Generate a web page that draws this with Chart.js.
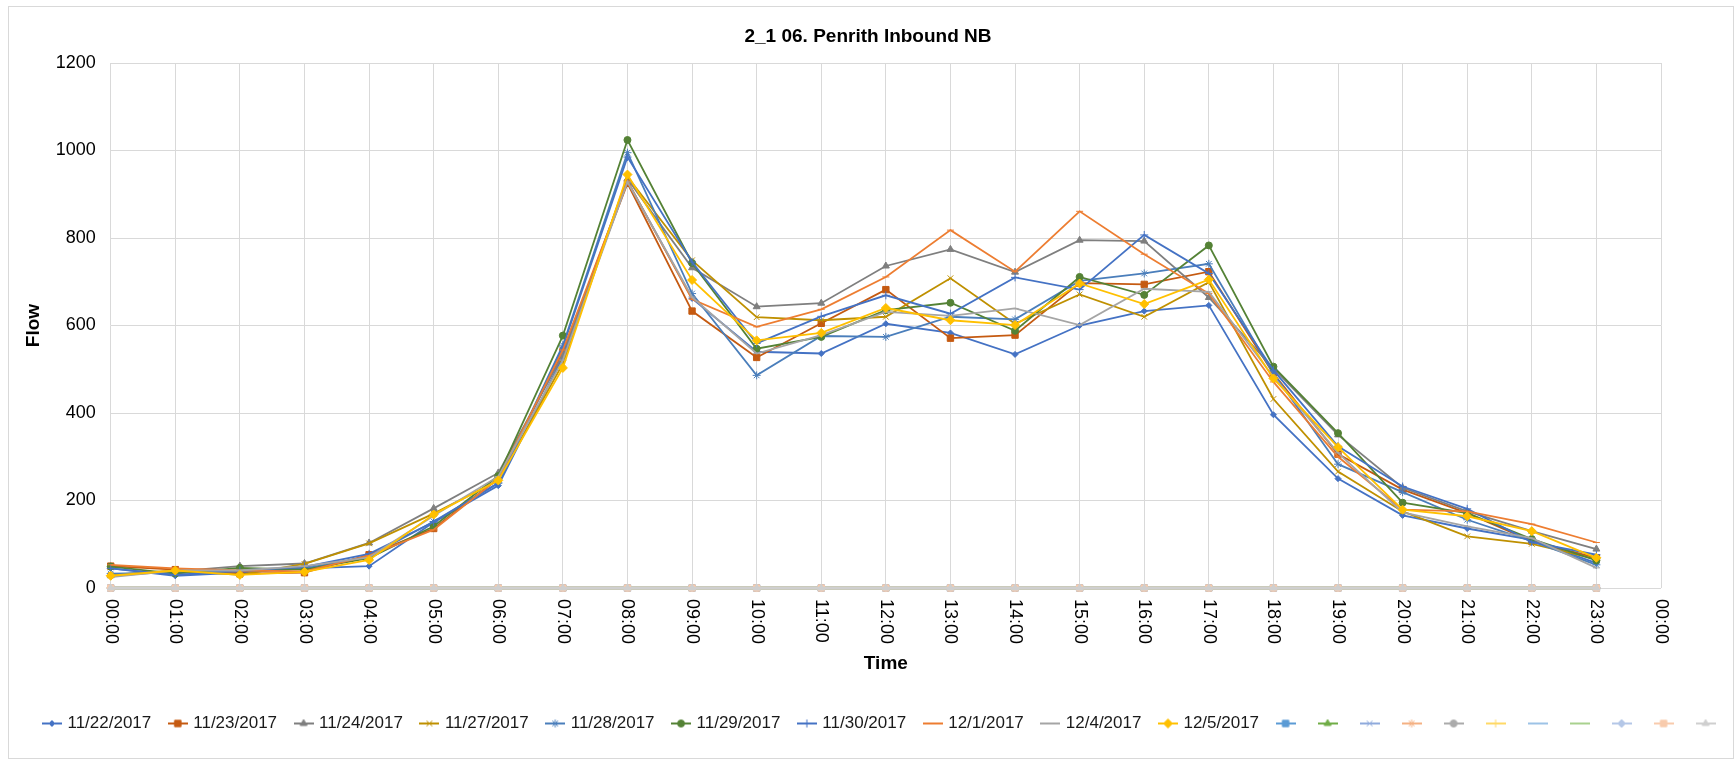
<!DOCTYPE html>
<html>
<head>
<meta charset="utf-8">
<title>2_1 06. Penrith Inbound NB</title>
<script src="https://cdn.jsdelivr.net/npm/chart.js@4.4.1/dist/chart.umd.min.js"></script>
<style>
  html, body { margin: 0; padding: 0; background: #fff; }
  canvas { display: block; }
</style>
</head>
<body>
<canvas id="flowChart" width="1736" height="760"></canvas>
<script>
// x axis categories (last 00:00 closes the day, no data there)
var hours = ['00:00', '01:00', '02:00', '03:00', '04:00', '05:00', '06:00', '07:00',
  '08:00', '09:00', '10:00', '11:00', '12:00', '13:00', '14:00', '15:00', '16:00',
  '17:00', '18:00', '19:00', '20:00', '21:00', '22:00', '23:00', '00:00'];

var yTicks = [0, 200, 400, 600, 800, 1000, 1200];

var dates = ['11/22/2017', '11/23/2017', '11/24/2017', '11/27/2017', '11/28/2017',
  '11/29/2017', '11/30/2017', '12/1/2017', '12/4/2017', '12/5/2017'];

// hourly flow
var flow1122 = [45, 28, 35, 45, 50, 150, 234, 528, 930, 662, 540, 536, 604, 583, 534, 600, 633, 646, 396, 250, 166, 136, 110, 57];
var flow1123 = [50, 42, 33, 35, 76, 136, 250, 540, 925, 633, 527, 605, 682, 571, 578, 697, 694, 723, 490, 306, 225, 171, 107, 69];
var flow1124 = [28, 38, 50, 56, 103, 182, 263, 532, 935, 732, 643, 651, 736, 774, 722, 795, 793, 664, 502, 350, 229, 175, 130, 89];
var flow1127 = [30, 40, 30, 55, 102, 170, 246, 513, 940, 749, 619, 612, 620, 708, 604, 671, 620, 699, 432, 266, 175, 118, 101, 66];
var flow1128 = [33, 35, 38, 44, 72, 152, 240, 555, 995, 673, 486, 576, 574, 620, 614, 702, 719, 741, 490, 283, 219, 156, 107, 53];
var flow1129 = [49, 33, 46, 42, 68, 141, 256, 577, 1024, 743, 547, 574, 635, 652, 588, 711, 670, 783, 506, 354, 195, 171, 112, 63];
var flow1130 = [45, 30, 40, 48, 78, 151, 240, 551, 985, 745, 559, 621, 669, 627, 710, 682, 807, 719, 498, 324, 232, 181, 105, 76];
var flow1201 = [53, 45, 40, 38, 74, 133, 250, 544, 930, 660, 597, 637, 711, 818, 723, 861, 763, 673, 471, 300, 179, 175, 146, 104];
var flow1204 = [25, 40, 40, 50, 70, 165, 255, 521, 928, 665, 536, 578, 631, 622, 639, 601, 684, 677, 483, 309, 173, 141, 114, 46];
var flow1205 = [28, 40, 30, 37, 64, 168, 246, 503, 945, 704, 566, 583, 640, 612, 601, 696, 649, 705, 479, 322, 179, 164, 130, 69];
// the unnamed series all sit on zero
var flowBlank = [0, 0, 0, 0, 0, 0, 0, 0, 0, 0, 0, 0, 0, 0, 0, 0, 0, 0, 0, 0, 0, 0, 0, 0];

var namedFlows = [flow1122, flow1123, flow1124, flow1127, flow1128, flow1129, flow1130, flow1201, flow1204, flow1205];

var lineColors = ['#4472C4', '#C55A11', '#7F7F7F', '#BF9000', '#4A7EBB', '#548235', '#4472C4', '#ED7D31', '#A5A5A5', '#FFC000',
  '#5B9BD5', '#70AD47', '#8FAADC', '#F4B183', '#ABABAB', '#FFD966', '#9DC3E6', '#A9D18E', '#B4C7E7', '#F8CBAD', '#CFCFCF'];
var markers = ['rectRot', 'rect', 'triangle', 'crossRot', 'star', 'circle', 'cross', 'line', 'line', 'rectRot',
  'rect', 'triangle', 'crossRot', 'star', 'circle', 'cross', 'line', 'line', 'rectRot', 'rect', 'triangle'];
var markerSizes = [3, 4.5, 4, 4, 4, 3.5, 4, 3.5, 3.5, 4.5, 4.5, 4, 4, 4, 3.5, 4, 3.5, 3.5, 4, 4.5, 4];

var FONT = '"Liberation Sans", Arial, sans-serif';

function legendIcon(color, marker, size) {
  var c = document.createElement('canvas');
  c.width = 20;
  c.height = 12;
  var g = c.getContext('2d');
  g.strokeStyle = color;
  g.fillStyle = color;
  g.lineWidth = 2;
  g.beginPath();
  g.moveTo(0, 6);
  g.lineTo(20, 6);
  g.stroke();
  g.lineWidth = 1;
  Chart.helpers.drawPoint(g, {pointStyle: marker, radius: size, rotation: 0, borderWidth: 1}, 10, 6);
  return c;
}

var datasets = [];
var icons = [];
for (let i = 0; i < lineColors.length; i++) {
  var named = i < namedFlows.length;
  datasets.push({
    label: named ? dates[i] : '',
    data: named ? namedFlows[i] : flowBlank,
    borderColor: lineColors[i],
    backgroundColor: lineColors[i],
    borderWidth: named ? 1.8 : 2.5,
    pointStyle: markers[i],
    pointRadius: markerSizes[i],
    pointBackgroundColor: lineColors[i],
    pointBorderColor: lineColors[i],
    pointBorderWidth: 1,
    tension: 0,
    clip: false,
    order: lineColors.length - i   // later series drawn on top, like Excel
  });
  icons.push(legendIcon(lineColors[i], markers[i], markerSizes[i]));
}

// background + outer frame of the chart, legend nudged right like the original
var frame = {
  id: 'frame',
  afterLayout: function(chart) {
    chart.legend.left += 15;
    chart.legend.right += 15;
  },
  beforeDraw: function(chart) {
    var ctx = chart.ctx;
    ctx.save();
    ctx.fillStyle = '#fff';
    ctx.fillRect(0, 0, chart.width, chart.height);
    ctx.strokeStyle = '#D9D9D9';
    ctx.lineWidth = 1;
    ctx.strokeRect(8.5, 6.5, 1725, 752);
    ctx.restore();
  }
};

// hour labels turned 90 degrees clockwise (read top to bottom)
var hourLabels = {
  id: 'hourLabels',
  afterDraw: function(chart) {
    var xs = chart.scales.x;
    var ctx = chart.ctx;
    ctx.save();
    ctx.font = '18px ' + FONT;
    ctx.fillStyle = '#000';
    ctx.textAlign = 'left';
    ctx.textBaseline = 'middle';
    for (let i = 0; i < hours.length; i++) {
      ctx.save();
      ctx.translate(xs.getPixelForValue(i), xs.top + 11);
      ctx.rotate(Math.PI / 2);
      ctx.fillText(hours[i], 0, 0);
      ctx.restore();
    }
    ctx.restore();
  }
};

var ctx = document.getElementById('flowChart').getContext('2d');
new Chart(ctx, {
  type: 'line',
  data: {
    labels: hours,
    datasets: datasets
  },
  plugins: [frame, hourLabels],
  options: {
    responsive: false,
    animation: false,
    devicePixelRatio: 1,
    layout: {padding: {left: 0, right: 0, top: 0, bottom: 18}},
    plugins: {
      title: {
        display: true,
        text: '2_1 06. Penrith Inbound NB',
        color: '#000',
        font: {family: FONT, size: 19, weight: 'bold'},
        padding: {top: 25, bottom: 15.2}
      },
      legend: {
        position: 'bottom',
        labels: {
          usePointStyle: true,
          pointStyleWidth: 14,
          padding: 19.5,
          color: '#1a1a1a',
          font: {family: FONT, size: 17},
          generateLabels: function(chart) {
            var items = Chart.defaults.plugins.legend.labels.generateLabels(chart);
            items.forEach(function(item) {
              item.pointStyle = icons[item.datasetIndex];
            });
            return items;
          },
          sort: function(a, b) { return a.datasetIndex - b.datasetIndex; }
        }
      },
      tooltip: {enabled: false}
    },
    scales: {
      x: {
        type: 'category',
        offset: false,
        grid: {color: '#D9D9D9', lineWidth: 1, drawTicks: false, offset: false},
        border: {display: false},
        ticks: {display: false},
        title: {
          display: true,
          text: 'Time',
          color: '#000',
          font: {family: FONT, size: 19, weight: 'bold'},
          padding: {top: 0, bottom: 20}
        },
        afterFit: function(scale) { scale.height = 107.5; }
      },
      y: {
        min: 0,
        max: 1200,
        afterBuildTicks: function(scale) {
          scale.ticks = yTicks.map(function(v) { return {value: v}; });
        },
        grid: {color: '#D9D9D9', lineWidth: 1, drawTicks: false},
        border: {display: false},
        ticks: {
          color: '#000',
          padding: 15,
          font: {family: FONT, size: 18},
          callback: function(value) { return String(value); }
        },
        title: {
          display: true,
          text: 'Flow',
          color: '#000',
          font: {family: FONT, size: 19, weight: 'bold'},
          padding: {top: 22.6, bottom: 0}
        },
        afterFit: function(scale) { scale.width = 110.7; }
      },
      yRight: {
        position: 'right',
        display: true,
        grid: {display: false},
        border: {display: false},
        ticks: {display: false},
        afterFit: function(scale) { scale.width = 75; }
      }
    }
  }
});
</script>
</body>
</html>
